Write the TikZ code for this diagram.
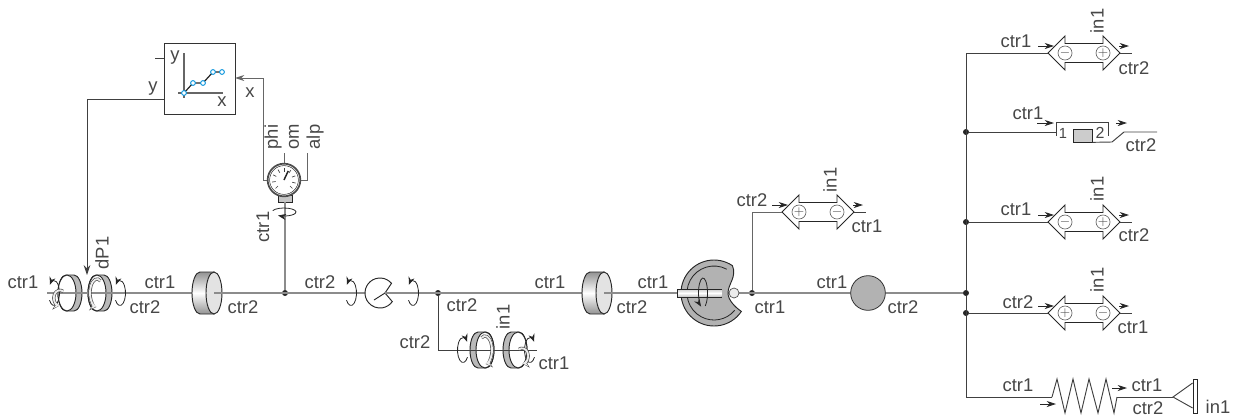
\documentclass[tikz,border=0pt]{standalone}
\usepackage{fontspec}
\setmainfont{Liberation Sans}
\usetikzlibrary{arrows.meta,calc,shapes.geometric}

\begin{document}
\begin{tikzpicture}[
    x=0.75pt, y=-0.75pt,
    shaft/.style={line width=1.6pt, draw=black!45},
    pipe/.style={line width=0.75pt, draw=black!75},
    outline/.style={line width=0.7pt, draw=black!85},
    lbl/.style={font=\fontsize{13.8}{14}\selectfont, text=black!72, inner sep=0pt},
    lbl_up/.style={lbl, rotate=90},
    flowtip/.style={line width=0.6pt, black!85, -{Stealth[length=7pt,width=4.5pt]}},
    dotjoin/.style={circle, fill=black!85, inner sep=0pt, minimum size=4.5pt},
    signcircle/.style={circle, draw=black!60, line width=0.5pt, fill=white, inner sep=0pt,
                       minimum size=10.5pt, font=\normalsize, text=black!70},
    spin/.style={line width=0.6pt, black!85, -{Stealth[length=6pt,width=4.5pt]}},
    pics/spinarrow/.style={code={
        \draw[spin] (0,0) ++(145:5.5 and 12.5) arc[start angle=145, end angle=-140,
            x radius=5.5, y radius=12.5];
    }},
    pics/lightspin/.style={code={
        \draw[line width=2.4pt, black!70, -{Stealth[length=5pt,width=7pt]}]
            (0,0) ++(-60:7 and 14) arc[start angle=-60, end angle=-265, x radius=7, y radius=14];
        \draw[line width=1.4pt, gray!15, -{Stealth[length=3.6pt,width=5pt]}]
            (0,0) ++(-60:7 and 14) arc[start angle=-60, end angle=-262, x radius=7, y radius=14];
    }},
    pics/clutchdisc/.style={code={
        \draw[outline, fill=gray!55] (-4,-18) arc[start angle=-90, end angle=-270, x radius=8, y radius=18]
            -- (4,18) arc[start angle=90, end angle=-90, x radius=8, y radius=18] -- cycle;
        \draw[outline, fill=white] (-3,0) circle[x radius=9, y radius=18];
    }},
    pics/inertia/.style={code={
        \shade[top color=gray!85, bottom color=gray!85, middle color=white]
            (-7,-21) arc[start angle=-90, end angle=-270, x radius=8, y radius=21]
            -- (7,21) arc[start angle=90, end angle=-90, x radius=8, y radius=21] -- cycle;
        \draw[outline] (-7,-21) arc[start angle=-90, end angle=-270, x radius=8, y radius=21]
            -- (7,21) -- (7,-21) -- cycle;
        \draw[outline, fill=gray!22] (7,0) circle[x radius=8, y radius=21];
        \coordinate (-face) at (7,0);
    }},
    pics/hydvalve/.style 2 args={code={
        \draw[outline, fill=white] (-36,0) -- (-19,-17) -- (-19,-9.5) -- (19,-9.5) -- (19,-17)
            -- (36,0) -- (19,17) -- (19,9.5) -- (-19,9.5) -- (-19,17) -- cycle;
        \node[signcircle] (-a) at (-19,0) {$#1$};
        \node[signcircle] (-b) at (19,0) {$#2$};
        \draw[flowtip] (-46,-7) -- (-30,-7);
        \draw[flowtip] (35,-7) -- (45,-7);
        \coordinate (-in) at (-36,0);
        \coordinate (-tip) at (36,0);
        \coordinate (-out) at (48,0);
        \draw[pipe] (-tip) -- (-out);
    }},
]
\useasboundingbox (0,0) rectangle (1235,419);

% Clutches sit under the shaft
\pic (clutchA) at (70,293) {clutchdisc};
\pic (clutchB) at (100,293) {clutchdisc};
\pic[xscale=-1] (clutchC) at (482,350) {clutchdisc};
\pic[xscale=-1] (clutchD) at (515,350) {clutchdisc};

% Junctions
\node[dotjoin] (joinA) at (285,293) {};
\node[dotjoin] (joinB) at (438,293) {};
\node[dotjoin] (joinC) at (752,293) {};
\node[dotjoin] (joinD) at (966,293) {};
\node[dotjoin] (joinE) at (966,132) {};
\node[dotjoin] (joinF) at (966,222) {};
\node[dotjoin] (joinG) at (966,313) {};
\coordinate (shaftstart) at (47,293);
\coordinate (branchend) at (537,350);

% Main shaft
\draw[shaft] (shaftstart) -- (joinD);
\draw[pipe] (joinB) |- (branchend);

% Rotation marks
\foreach \name/\px/\py in {spinA/54/293, spinB/120/293, spinC/351/293, spinD/413/293}
{
    \pic (\name) at (\px,\py) {spinarrow};
}
\foreach \name/\px/\py in {spinE/463/350, spinF/530/350}
{
    \pic[xscale=-1] (\name) at (\px,\py) {spinarrow};
}
\pic[yscale=0.55, xscale=0.9] (lightA) at (60,298) {lightspin};
\pic (lightB) at (97,293) {lightspin};
\pic[xscale=-1] (lightC) at (485,350) {lightspin};
\pic[xscale=-0.9, yscale=0.55] (lightD) at (522,356) {lightspin};

% Inertias
\pic (inertiaA) at (207,293) {inertia};
\pic (inertiaB) at (597,293) {inertia};
\draw[shaft] (inertiaA-face) -- (joinA);
\draw[shaft] (inertiaB-face) -- +(20,0);

% Torque sensor with notch
\coordinate (sensorapex) at (385,293);
\draw[outline, fill=white] (380,293) ++(-40:15) arc[start angle=-40, end angle=-325, radius=15]
    -- (sensorapex) -- cycle;
\draw[outline] (374,300) -- (sensorapex);
\draw[shaft] (sensorapex) -- (400,293);

% Map block
\node[draw=black!80, line width=0.7pt, fill=white, minimum size=53.25pt, inner sep=0pt]
    (mapblock) at (199.5,78.5) {};
\coordinate (axisx) at (223,93);
\coordinate (axisy) at (184,53);
\draw[line width=0.8pt, black!60] (178,93) -- (axisx);
\draw[line width=0.8pt, black!60] (axisy) -- (184,98);
\draw[line width=0.9pt, black!85] (184,93) -- (193,83) -- (203,83) -- (213,72) -- (222,72);
\foreach \px/\py in {184/93, 193/83, 203/83, 213/72, 222/72}
{
    \draw[cyan!80!blue, line width=0.7pt, fill=white] (\px,\py) circle[radius=2.4];
}
\coordinate (mapstub) at (155,58);
\draw[pipe, line width=0.6pt] (mapstub) -- (mapstub -| mapblock.west);

% Gauge
\node[draw=black!85, fill=gray!45, line width=0.5pt, minimum width=10.5pt, minimum height=5.25pt, inner sep=0pt]
    (gaugebase) at (285,198.5) {};
\node[circle, draw=black!70, line width=1.3pt, fill=white, minimum size=24.5pt, inner sep=0pt]
    (gauge) at (284,180) {};
\draw[black!80, line width=0.4pt] (gauge.center) circle[radius=14.4];
\foreach \ang in {-225,-190,-155,-120,-90,-55,-20,15,45}
{
    \draw[black!75, line width=0.5pt] (gauge.center) ++(\ang:8.5) -- ++(\ang:3.5);
}
\draw[black!85, line width=1.1pt] (gauge.center) -- ++(-65:10);
\draw[shaft] (gaugebase.south) -- (joinA);
\draw[spin] (284,212) ++(200:12 and 4) arc[start angle=200, end angle=480, x radius=12, y radius=4];

% Gauge outputs
\coordinate (phibend) at (263,180);
\coordinate (omend) at (284,153);
\coordinate (alpend) at (307,153);
\coordinate (mapin) at (235,78);
\draw[pipe, draw=black!60, -{Stealth[length=7pt,width=4.5pt]}] (gauge.west) -- (phibend) |- (mapin);
\draw[pipe, draw=black!60] (gauge.north) -- (omend);
\draw[pipe, draw=black!60] (gauge.east) -- (gauge.east -| alpend) -- (alpend);

% Feedback to clutch
\coordinate (mapout) at (164,99);
\coordinate (dpcorner) at (87,99);
\coordinate (dptip) at (87,275);
\draw[pipe, -{Stealth[length=7.5pt,width=5pt]}] (mapout) -- (dpcorner) -- (dptip);

% Cam with shaft
\coordinate (camcentre) at (714,293);
\draw[outline, fill=gray!60] (camcentre) ++(-56:33) arc[start angle=-56, end angle=-326, radius=33]
    .. controls (735,307) and (728,300) .. (728,293)
    .. controls (728,284) and (737,277) .. cycle;
\draw[black!85, line width=0.6pt] (camcentre) ++(-62:27) arc[start angle=-62, end angle=-320, radius=27];
\shade[top color=gray!40, bottom color=gray!50, middle color=white, rounded corners=1pt]
    (677,289) rectangle (722,297);
\draw[outline, line width=0.5pt] (722,289) -- (677,289) -- (677,297) -- (722,297);
\draw[spin] (703,293) ++(60:4.5 and 15) arc[start angle=60, end angle=-245, x radius=4.5, y radius=15];
\node[circle, draw=black!70, line width=0.5pt, fill=gray!15, inner sep=0pt, minimum size=7.5pt]
    (camball) at (734,293) {};

% Mass
\node[circle, draw=black!80, line width=0.6pt, fill=gray!60, inner sep=0pt, minimum size=26pt]
    (mass) at (868,293) {};

% Valves
\pic (valveA) at (818,212) {hydvalve={+}{-}};
\pic (valveB) at (1084,53) {hydvalve={-}{+}};
\pic (valveC) at (1084,222) {hydvalve={-}{+}};
\pic (valveD) at (1084,313) {hydvalve={+}{-}};
\draw[pipe, draw=black!60] (joinC) |- (valveA-in);

% Bus
\coordinate (busend) at (1052,397);
\draw[pipe] (valveB-in) -| (joinD);
\draw[pipe] (joinD) |- (busend);
\draw[pipe] (joinF) -- (valveC-in);
\draw[pipe] (joinG) -- (valveD-in);

% Orifice block
\coordinate (blockin) at (1056,132);
\coordinate (blockout) at (1157,132);
\node[draw=black!85, fill=gray!40, line width=0.5pt, minimum width=14.25pt, minimum height=9.75pt, inner sep=0pt]
    (orifice) at (1082.5,135.5) {};
\draw[pipe] (joinE) -- (blockin);
\draw[pipe, line width=0.7pt] (1056,136) -- (1056,122) -- (1108,122) -- (1108,136);
\draw[pipe, line width=0.7pt] (orifice.south east) -- (1112,142) -- (1124,132) -- (blockout);
\node[lbl, font=\fontsize{11}{12}\selectfont] (port1) at (1063,133) {1};
\node[lbl, font=\fontsize{12}{12}\selectfont] (port2) at (1100,133) {2};
\draw[flowtip] (1037,123) -- (1054,123);
\draw[flowtip] (1116,123) -- (1127,123);

% Spring and stop
\coordinate (springout) at (1117,397);
\coordinate (stoptip) at (1173,397);
\draw[pipe, line width=0.7pt] (busend) -- (1057,379) -- (1065,413) -- (1073,379) -- (1081,413)
    -- (1089,379) -- (1098,413) -- (1106,379) -- (1114,413) -- (springout);
\draw[pipe] (springout) -- (stoptip);
\node[draw=black!85, line width=0.6pt, fill=white, minimum width=3pt, minimum height=25.5pt, inner sep=0pt]
    (stopbar) at (1195,396) {};
\draw[pipe, line width=0.7pt] (stopbar.west |- 0,383) -- (stoptip) -- (stopbar.west |- 0,408);
\draw[flowtip] (1112,388) -- (1127,388);
\draw[flowtip] (1040,404) -- (1056,404);

% Labels
\foreach \px/\py/\txt [count=\n] in {
    23/282/ctr1, 145/307/ctr2, 160/282/ctr1, 243/307/ctr2, 320/282/ctr2, 462/305/ctr2,
    415/342/ctr2, 550/282/ctr1, 554/363/ctr1, 632/307/ctr2, 653/282/ctr1, 770/307/ctr1,
    752/200/ctr2, 867/226/ctr1, 832/282/ctr1, 903/307/ctr2, 1016/41/ctr1, 1134/68/ctr2,
    1028/113/ctr1, 1141/145/ctr2, 1016/209/ctr1, 1134/235/ctr2, 1018/302/ctr2, 1133/327/ctr1,
    1018/385/ctr1, 1147/385/ctr1, 1148/408/ctr2, 1218/407/in1, 175/58/y, 222/102/x, 153/89/y, 250/93/x}
{
    \node[lbl] (lbl\n) at (\px,\py) {\txt};
}
\foreach \px/\py/\txt [count=\n] in {
    102/253/dP1, 263/227/ctr1, 273/137/phi, 294/137/om, 315/137/alp,
    503/317/in1, 830/180/in1, 1097/21/in1, 1097/189/in1, 1097/280/in1}
{
    \node[lbl_up] (lblup\n) at (\px,\py) {\txt};
}

\end{tikzpicture}
\end{document}
